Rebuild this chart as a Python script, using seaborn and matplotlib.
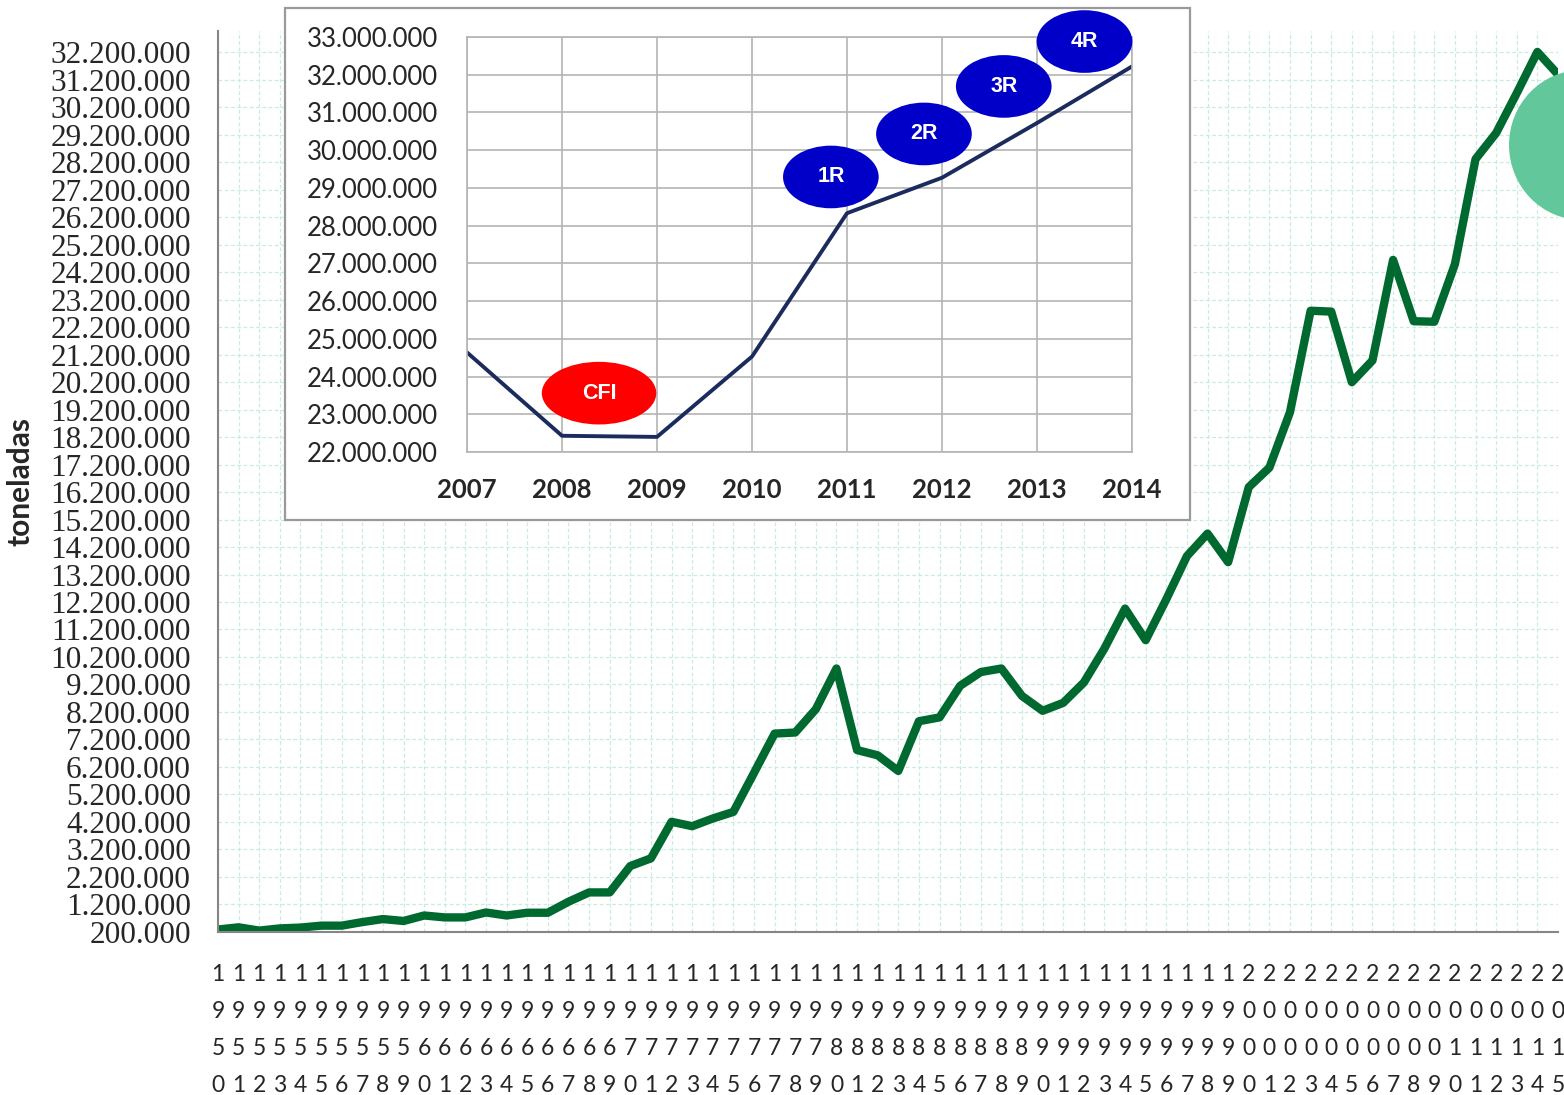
import numpy as np
import matplotlib
matplotlib.use("Agg")
import matplotlib.pyplot as plt
from matplotlib.patches import Ellipse, Rectangle
import seaborn as sns

# serie principal 1950-2015 (toneladas)
anios = list(range(1950, 2016))
toneladas = [
    280000, 360000, 240000, 320000, 350000, 420000, 420000, 550000, 660000, 590000,
    790000, 720000, 720000, 900000, 790000, 890000, 890000, 1290000, 1630000, 1630000,
    2590000, 2870000, 4200000, 4040000, 4320000, 4560000, 5980000, 7410000, 7450000, 8300000,
    9780000, 6810000, 6620000, 6050000, 7860000, 8000000, 9150000, 9650000, 9780000, 8780000,
    8240000, 8530000, 9270000, 10510000, 11960000, 10810000, 12300000, 13870000, 14690000, 13650000,
    16380000, 17090000, 19110000, 22800000, 22770000, 20200000, 20990000, 24650000, 22420000, 22400000,
    24500000, 28320000, 29270000, 30720000, 32220000, 31400000,
]

# recuadro 2007-2014
anios_zoom = [2007, 2008, 2009, 2010, 2011, 2012, 2013, 2014]
toneladas_zoom = [24640000, 22430000, 22400000, 24530000, 28330000, 29270000, 30720000, 32220000]

# etiquetas de los globos
globos = ["CFI", "1R", "2R", "3R", "4R"]
globos_x = [2008.39, 2010.83, 2011.81, 2012.65, 2013.50]
globos_y = [23560000, 29290000, 30430000, 31690000, 32880000]
globos_color = ["#ff0000", "#0000c8", "#0000c8", "#0000c8", "#0000c8"]


def miles(v):
    return f"{v:,.0f}".replace(",", ".")


sns.set_style("white")
plt.rcParams["font.family"] = ["Lato", "DejaVu Sans"]

W, H = 1564, 1095
fig = plt.figure(figsize=(W / 100, H / 100), dpi=100)

# ---- grafico principal ----
ax = fig.add_axes([218 / W, 1 - 931.7 / H, (1558 - 218) / W, (931.7 - 30.5) / H])
sns.lineplot(x=anios, y=toneladas, ax=ax, color="#00692f", linewidth=6)
for l in ax.lines:
    l.set_solid_joinstyle("round")
    l.set_solid_capstyle("round")

ax.set_xlim(1950, 2015)
ax.set_ylim(200000, 33000000)
yt = np.arange(200000, 32200001, 1000000)
ax.set_yticks(yt)
ax.set_yticklabels([miles(v) for v in yt], family="Liberation Serif", fontsize=22.5)
ax.set_xticks(anios)
ax.set_xticklabels(["\n".join(str(a)) for a in anios], fontsize=16.5, linespacing=1.93)
ax.tick_params(axis="both", direction="out", length=6.5, width=1.5, color="#868686")
ax.tick_params(axis="y", pad=13)
ax.tick_params(axis="x", pad=17)
ax.grid(True, color="#c8ede0", linestyle=(0, (3, 2)), linewidth=0.9)
for s in ["top", "right"]:
    ax.spines[s].set_visible(False)
for s in ["left", "bottom"]:
    ax.spines[s].set_color("#868686")
    ax.spines[s].set_linewidth(1.5)
ax.set_xlabel("")
ax.set_ylabel("")

fig.text(21 / W, 1 - 481 / H, "toneladas", rotation=90, fontsize=21.5,
         fontweight="bold", ha="center", va="center")

# ---- recuadro ----
fig.add_artist(Rectangle((285 / W, 1 - 520 / H), 905 / W, 512 / H,
                         transform=fig.transFigure, facecolor="white",
                         edgecolor="#9a9a9a", linewidth=1.6, zorder=1))

ax2 = fig.add_axes([467 / W, 1 - 452 / H, (1132 - 467) / W, (452 - 37) / H])
ax2.set_zorder(2)
ax2.patch.set_alpha(0)
sns.lineplot(x=anios_zoom, y=toneladas_zoom, ax=ax2, color="#1c2b5e", linewidth=2.8)
ax2.set_xlim(2007, 2014)
ax2.set_ylim(22000000, 33000000)
yt2 = np.arange(22000000, 33000001, 1000000)
ax2.set_yticks(yt2)
ax2.set_yticklabels([miles(v) for v in yt2], fontsize=18.5)
ax2.set_xticks(anios_zoom)
ax2.set_xticklabels([str(a) for a in anios_zoom], fontsize=18.5, fontweight="bold")
ax2.tick_params(axis="both", direction="out", length=7, width=1.2, color="#ababab")
ax2.tick_params(axis="y", pad=14)
ax2.tick_params(axis="x", pad=12)
ax2.grid(True, color="#b4b4b4", linestyle="-", linewidth=1.2)
for s in ax2.spines.values():
    s.set_color("#b4b4b4")
    s.set_linewidth(1.2)
ax2.set_xlabel("")
ax2.set_ylabel("")

for t, gx, gy, c in zip(globos, globos_x, globos_y, globos_color):
    w = 1.205 if t == "CFI" else 1.007
    ax2.add_patch(Ellipse((gx, gy), w, 1.66e6, facecolor=c, edgecolor="none",
                          clip_on=False, zorder=5))
    ax2.text(gx, gy, t, color="white", fontsize=15.5, fontweight="bold",
             family="Liberation Sans", ha="center", va="center", zorder=6, clip_on=False)

# globo verde en el borde derecho
fig.add_artist(Ellipse((1582 / W, 1 - 145 / H), 146 / W, 150 / H,
                       transform=fig.transFigure, facecolor="#62c89c",
                       edgecolor="none", zorder=3))

fig.savefig("out.png", dpi=100)
